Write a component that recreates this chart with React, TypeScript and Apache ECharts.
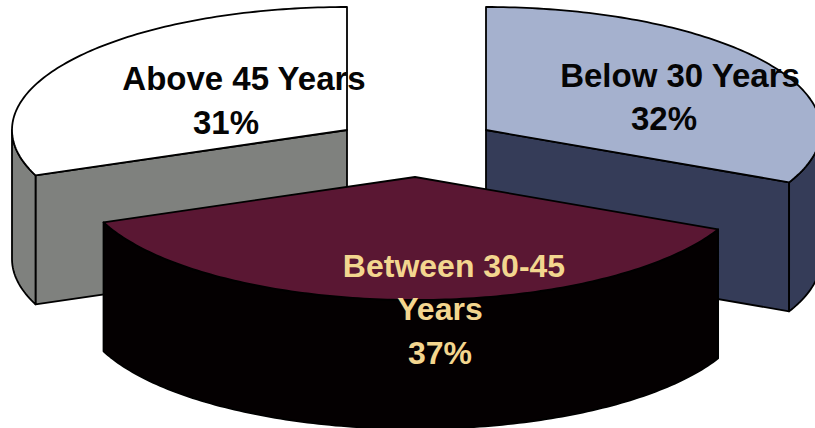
import React, { useEffect, useRef } from "react";
import * as echarts from "echarts";

// Age groups in ring order, running anticlockwise from twelve o'clock.
const ageGroups = ["Above 45 Years", "Between 30-45 Years", "Below 30 Years"];
const shares = [31, 37, 32];

const topColors = ["#ffffff", "#5a1733", "#a5b1ce"];
const sideColors = ["#7f817e", "#040001", "#353c58"];
const textColors = ["#050505", "#f3d68f", "#050505"];

// Each slice is pulled away from the pie's middle by its own centre.
const sliceCentres = [
  [347, 130],
  [415, 177],
  [486, 130],
];
const labelLines = [
  ["Above 45 Years", "31%"],
  ["Between 30-45", "Years", "37%"],
  ["Below 30 Years", "32%"],
];
const labelCentres = [
  [[244, 78], [226, 122]],
  [[454, 266], [440, 309], [440, 353]],
  [[680, 75], [664, 118]],
];
const labelSizes = [33, 32, 33];
const paintOrder = [1, 3, 2];

const RX = 335;
const RY = 123;
const DEPTH = 129;

const toRad = (d: number) => (d * Math.PI) / 180;

function rimPoint(c: number[], deg: number, drop = 0): number[] {
  return [c[0] + RX * Math.cos(toRad(deg)), c[1] - RY * Math.sin(toRad(deg)) + drop];
}

function arcPoints(c: number[], from: number, to: number, drop = 0): number[][] {
  const steps = Math.max(2, Math.ceil(Math.abs(to - from)));
  const pts: number[][] = [];
  for (let i = 0; i <= steps; i++) {
    pts.push(rimPoint(c, from + ((to - from) * i) / steps, drop));
  }
  return pts;
}

function polygon(points: number[][], fill: string, z2: number) {
  return {
    type: "polygon",
    z2,
    shape: { points },
    style: { fill, stroke: "#000000", lineWidth: 1.8, lineJoin: "round" },
  };
}

const total = shares.reduce((a, b) => a + b, 0);

function renderSlice(params: any, api: any) {
  const i = params.dataIndex;
  const before = shares.slice(0, i).reduce((a, b) => a + b, 0);
  const start = 90 + (before / total) * 360;
  const end = start + (api.value(0) / total) * 360;
  const c = sliceCentres[i];
  const z = paintOrder[i];
  const side = sideColors[i];
  const children: any[] = [];

  // Cut faces that turn toward the viewer.
  const radialFace = (deg: number) => {
    const r = rimPoint(c, deg);
    return polygon([c, r, [r[0], r[1] + DEPTH], [c[0], c[1] + DEPTH]], side, z);
  };
  if (Math.cos(toRad(end)) < -1e-6) children.push(radialFace(end));
  if (Math.cos(toRad(start)) > 1e-6) children.push(radialFace(start));

  // Outer wall: only the lower half of the ellipse can be seen.
  const a = Math.max(start, 180);
  const b = Math.min(end, 360);
  if (b > a) {
    children.push(polygon([...arcPoints(c, a, b), ...arcPoints(c, b, a, DEPTH)], side, z));
  }

  children.push(polygon([c, ...arcPoints(c, start, end)], topColors[i], z));

  labelLines[i].forEach((line, n) => {
    children.push({
      type: "text",
      z2: 10,
      style: {
        text: line,
        x: labelCentres[i][n][0],
        y: labelCentres[i][n][1],
        font: `bold ${labelSizes[i]}px "Liberation Sans", Arial, sans-serif`,
        fill: textColors[i],
        align: "center",
        verticalAlign: "middle",
      },
    });
  });

  return { type: "group", children };
}

export default function App() {
  const ref = useRef<HTMLDivElement>(null);

  useEffect(() => {
    document.body.style.margin = "0";
    const chart = echarts.init(ref.current!, undefined, { renderer: "svg" });
    chart.setOption({
      animation: false,
      backgroundColor: "#ffffff",
      series: [
        {
          type: "custom",
          coordinateSystem: "none",
          silent: true,
          data: shares.map((v, i) => ({ name: ageGroups[i], value: [v] })),
          renderItem: renderSlice,
        },
      ],
    });
    return () => chart.dispose();
  }, []);

  return <div ref={ref} style={{ width: 815, height: 428 }} />;
}
